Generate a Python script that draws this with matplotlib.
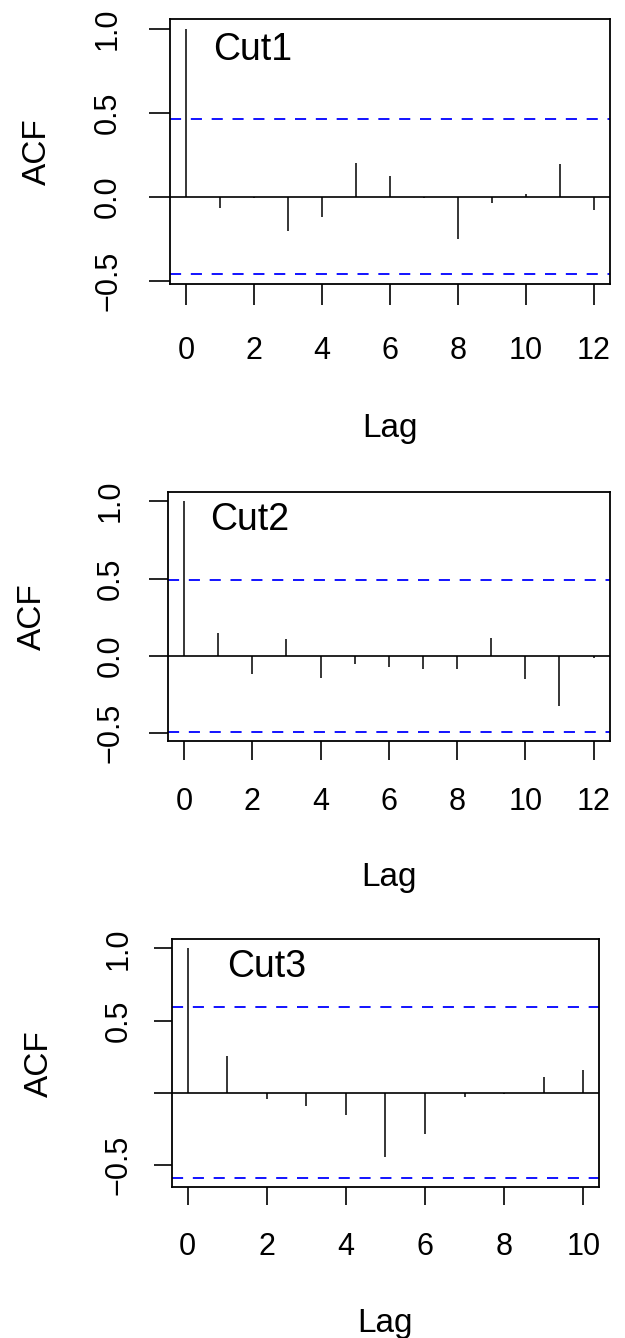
import numpy as np
import matplotlib.pyplot as plt

plt.rcParams['font.family'] = ['Liberation Sans', 'DejaVu Sans']
plt.rcParams['lines.scale_dashes'] = False

# ACF values
names = ["Cut1", "Cut2", "Cut3"]
lags = [list(range(13)), list(range(13)), list(range(11))]
acf_cut1 = [1.0, -0.069, -0.010, -0.206, -0.121, 0.198, 0.123, -0.010, -0.253, -0.038, 0.018, 0.192, -0.081]
acf_cut2 = [1.0, 0.148, -0.114, 0.109, -0.142, -0.049, -0.069, -0.086, -0.086, 0.114, -0.146, -0.324, -0.015]
acf_cut3 = [1.0, 0.254, -0.046, -0.092, -0.152, -0.446, -0.284, -0.028, -0.012, 0.106, 0.159]
acfs = [acf_cut1, acf_cut2, acf_cut3]
ci = [0.462, 0.490, 0.591]   # 1.96/sqrt(n)
xticks = [[0, 2, 4, 6, 8, 10, 12], [0, 2, 4, 6, 8, 10, 12], [0, 2, 4, 6, 8, 10]]
yticks = [-0.5, 0.0, 0.5, 1.0]
ytick_labels = [["\u22120.5", "0.0", "0.5", "1.0"],
                ["\u22120.5", "0.0", "0.5", "1.0"],
                ["\u22120.5", "", "0.5", "1.0"]]

W, H = 625, 1338
PX = 72 / 100  # pixels -> points at dpi 100

# layout in pixels: box (left, top, right, bottom), tick length, pads, label spots
layout = [
    dict(box=(170, 19, 610, 284), tl=21, xpad=31, ypad=26, xlab=413, ylab=53, txt=(0.097, 0.845)),
    dict(box=(167.7, 492, 610, 741), tl=19, xpad=27, ypad=23, xlab=862, ylab=48, txt=(0.097, 0.847)),
    dict(box=(171.7, 939.3, 599.3, 1187), tl=18, xpad=27, ypad=20, xlab=1308, ylab=55, txt=(0.13, 0.849)),
]

fig = plt.figure(figsize=(W / 100, H / 100), dpi=100)

for i in range(3):
    L = layout[i]
    l, t, r, b = L['box']
    ax = fig.add_axes([l / W, (H - b) / H, (r - l) / W, (b - t) / H])
    x = lags[i]
    y = acfs[i]
    ax.vlines(x, 0, y, color='black', linewidth=1.1)
    ax.axhline(0, color='black', linewidth=1.2)
    ax.axhline(ci[i], color='blue', linewidth=1.3, linestyle=(0, (8, 7)))
    ax.axhline(-ci[i], color='blue', linewidth=1.3, linestyle=(0, (8, 7)))

    n = max(x)
    ax.set_xlim(-0.04 * n, 1.04 * n)
    lo, hi = -ci[i], 1.0
    span = hi - lo
    ax.set_ylim(lo - 0.04 * span, hi + 0.04 * span)

    ax.set_xticks(xticks[i])
    ax.set_yticks(yticks)
    ax.set_yticklabels(ytick_labels[i])
    ax.tick_params(axis='both', direction='out', length=L['tl'] * PX, width=1.2,
                   labelsize=22, colors='black')
    ax.tick_params(axis='x', pad=L['xpad'] * PX)
    ax.tick_params(axis='y', pad=L['ypad'] * PX, labelrotation=90)
    for lab in ax.get_yticklabels():
        lab.set_verticalalignment('center')
    for s in ax.spines.values():
        s.set_linewidth(1.3)

    ax.set_xlabel("Lag", fontsize=24)
    ax.set_ylabel("ACF", fontsize=24)
    ax.xaxis.set_label_coords(0.5, (b - L['xlab']) / (b - t))
    ax.yaxis.set_label_coords((L['ylab'] - l) / (r - l), 0.5)

    ax.text(L['txt'][0], L['txt'][1], names[i], transform=ax.transAxes,
            fontsize=27, ha='left', va='baseline')

fig.savefig("out.png", dpi=100)
